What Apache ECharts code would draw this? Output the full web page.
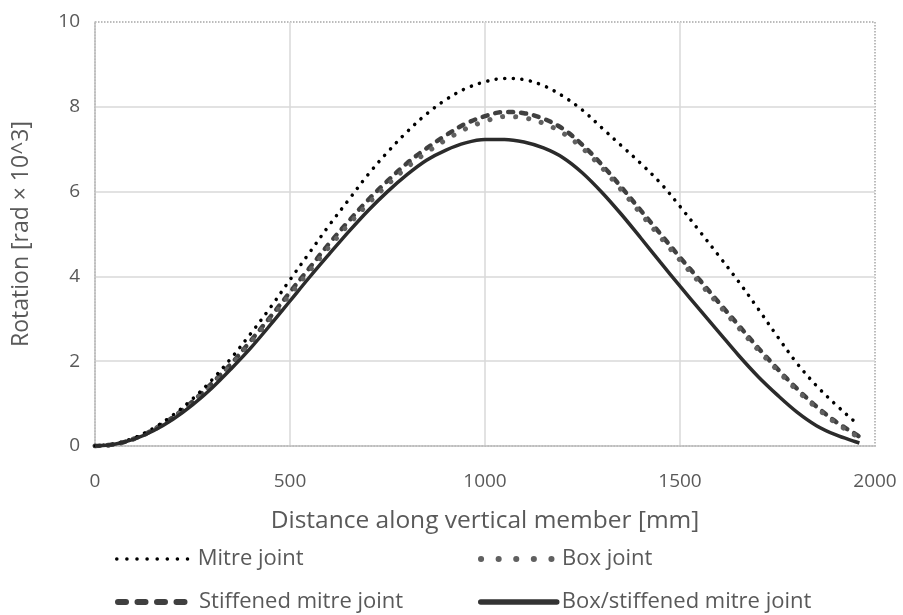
<!DOCTYPE html>
<html><head><meta charset="utf-8">
<script src="https://cdn.jsdelivr.net/npm/echarts@6/dist/echarts.min.js"></script>
<style>html,body{margin:0;padding:0;background:#fff}#c{width:903px;height:615px}</style>
</head><body><div id="c"></div>
<script>
var distances = [0,50,100,150,200,250,300,350,400,450,500,550,600,650,700,750,800,850,900,950,1000,1050,1100,1150,1200,1250,1300,1350,1400,1450,1500,1550,1600,1650,1700,1750,1800,1850,1900,1950,1960];
var mitre = [0,0.05,0.19,0.42,0.73,1.11,1.56,2.08,2.66,3.27,3.92,4.56,5.2,5.8,6.4,6.93,7.41,7.83,8.17,8.43,8.59,8.67,8.64,8.5,8.25,7.92,7.5,7.08,6.66,6.2,5.65,5.07,4.48,3.88,3.24,2.58,1.95,1.42,0.97,0.56,0.5];
var box = [0,0.04,0.17,0.38,0.67,1.03,1.46,1.92,2.45,3.0,3.57,4.13,4.69,5.22,5.71,6.16,6.57,6.92,7.22,7.48,7.66,7.77,7.74,7.61,7.38,7.02,6.56,6.03,5.47,4.92,4.38,3.85,3.32,2.79,2.27,1.78,1.31,0.9,0.54,0.25,0.2];
var stiffened = [0,0.04,0.17,0.39,0.68,1.05,1.48,1.95,2.49,3.05,3.63,4.2,4.77,5.3,5.8,6.25,6.67,7.02,7.33,7.6,7.78,7.88,7.85,7.72,7.48,7.1,6.63,6.1,5.55,5.0,4.45,3.92,3.38,2.85,2.32,1.82,1.35,0.93,0.57,0.28,0.22];
var boxStiffened = [0,0.04,0.16,0.36,0.63,0.97,1.37,1.83,2.32,2.86,3.42,3.98,4.52,5.05,5.55,6.0,6.4,6.74,6.98,7.15,7.23,7.23,7.17,7.03,6.8,6.44,5.98,5.46,4.9,4.33,3.77,3.22,2.68,2.14,1.64,1.2,0.8,0.48,0.26,0.1,0.07];
var seriesNames = ['Mitre joint','Box joint','Stiffened mitre joint','Box/stiffened mitre joint'];

function pairs(v){ return distances.map(function(d,i){ return [d, v[i]]; }); }
var txt = '#595959', font = 'Open Sans';
function leg(name, left, top, ls){
  return {data:[name],left:left,top:top,itemWidth:76,itemHeight:14,itemGap:0,
    itemStyle:{opacity:0}, lineStyle:ls,
    textStyle:{color:txt,fontSize:22,fontFamily:font}};
}
var chart = echarts.init(document.getElementById('c'), null, {renderer:'canvas'});
chart.setOption({
  animation:false,
  textStyle:{fontFamily:font},
  grid:{left:95,right:28,top:22,bottom:169,containLabel:false,outerBoundsMode:'none',
    show:true,borderColor:'#a6a6a6',borderWidth:1.5,borderType:'dotted'},
  xAxis:{type:'value',min:0,max:2000,interval:500,
    name:'Distance along vertical member [mm]',nameLocation:'middle',nameGap:63,
    nameTextStyle:{color:txt,fontSize:24.5,fontFamily:font},
    axisLine:{show:true,lineStyle:{color:'#bfbfbf',width:1.5}},axisTick:{show:false},
    axisLabel:{color:txt,fontSize:19,margin:26,fontFamily:font,formatter:function(v){return String(v);}},
    splitLine:{show:true,showMinLine:false,showMaxLine:false,lineStyle:{color:'#d9d9d9',width:1.5}}},
  yAxis:{type:'value',min:0,max:10,interval:2,
    name:'Rotation [rad × 10^3]',nameLocation:'middle',nameGap:62,
    nameTextStyle:{color:txt,fontSize:23,fontFamily:font},
    axisLine:{show:true,lineStyle:{color:'#bfbfbf',width:1.5}},axisTick:{show:false},
    axisLabel:{color:txt,fontSize:19,margin:15,fontFamily:font,formatter:function(v){return String(v);}},
    splitLine:{show:true,showMinLine:false,showMaxLine:false,lineStyle:{color:'#d9d9d9',width:1.5}}},
  legend:[
    leg(seriesNames[0],110,543,{color:'#000',width:3.5,type:[0.1,10],cap:'round'}),
    leg(seriesNames[1],473,543,{color:'#606060',width:6,type:[0.1,17.5],cap:'round'}),
    leg(seriesNames[2],110,586,{color:'#404040',width:6,type:[8,11.5],cap:'round'}),
    leg(seriesNames[3],473,586,{color:'#333333',width:5.5,type:'solid',cap:'round'})
  ],
  series:[
    {name:seriesNames[0],type:'line',data:pairs(mitre),smooth:0.35,symbol:'none',z:4,color:'#000',
     lineStyle:{color:'#000',width:3.5,type:[0.1,8.5],cap:'round'}},
    {name:seriesNames[1],type:'line',data:pairs(box),smooth:0.35,symbol:'none',z:3,color:'#606060',
     lineStyle:{color:'#606060',width:5,type:[0.1,13],cap:'round'}},
    {name:seriesNames[2],type:'line',data:pairs(stiffened),smooth:0.35,symbol:'none',z:2,color:'#404040',
     lineStyle:{color:'#404040',width:4.5,type:[5,8],cap:'round'}},
    {name:seriesNames[3],type:'line',data:pairs(boxStiffened),smooth:0.35,symbol:'none',z:5,color:'#2b2b2b',
     lineStyle:{color:'#2b2b2b',width:3.5}}
  ]
});
</script></body></html>
